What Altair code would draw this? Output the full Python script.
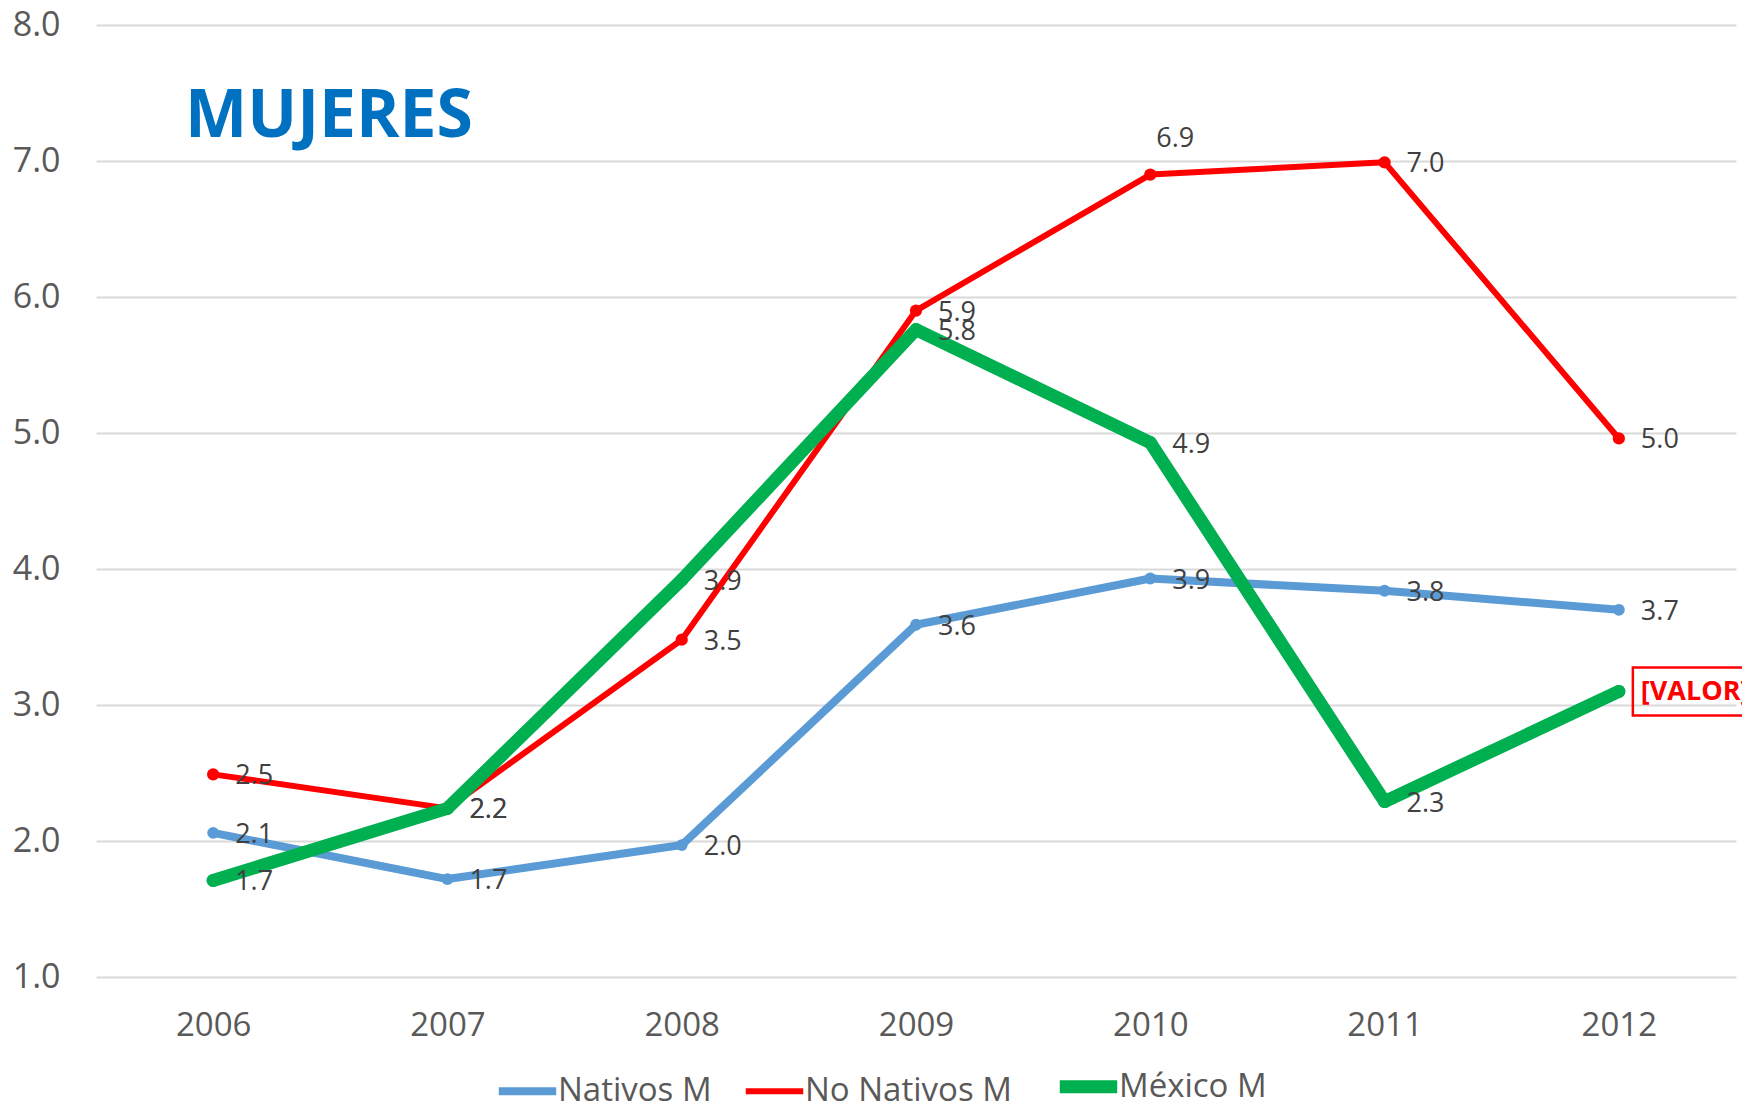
import altair as alt
import pandas as pd

years = [2006, 2007, 2008, 2009, 2010, 2011, 2012]
series_names = ["Nativos M", "No Nativos M", "México M"]
nativos = [2.06, 1.72, 1.97, 3.59, 3.93, 3.84, 3.70]
no_nativos = [2.49, 2.24, 3.48, 5.90, 6.90, 6.99, 4.96]
mexico = [1.71, 2.24, 3.92, 5.76, 4.93, 2.29, 3.10]
y_ticks = [1, 2, 3, 4, 5, 6, 7, 8]
title_text = ["MUJERES"]
special_label = "[VALOR]"

colors = ["#5B9BD5", "#FF0000", "#00B050"]
line_widths = [8, 6, 13]
point_sizes = [140, 150, 170]

rows = []
for name, vals in zip(series_names, [nativos, no_nativos, mexico]):
    for yr, v in zip(years, vals):
        rows.append({"year": yr, "value": v, "serie": name})
df = pd.DataFrame(rows)

FONT = "Open Sans"
GRAY = "#595959"
LABEL_GRAY = "#404040"

legend_width_expr = " : ".join(
    f"datum.value == '{n}' ? {w}" for n, w in zip(series_names[:-1], line_widths[:-1])
) + f" : {line_widths[-1]}"

legend = alt.Legend(
    orient="none", legendX=415, legendY=1045, direction="horizontal", columns=3,
    title=None, symbolType="stroke", symbolSize=3300, labelFontSize=33,
    symbolStrokeWidth=alt.ExprRef(legend_width_expr),
    labelColor=GRAY, labelFont=FONT, columnPadding=21, labelOffset=14,
    padding=0, labelLimit=400,
)
color_enc = alt.Color("serie:N", scale=alt.Scale(domain=series_names, range=colors), legend=legend)

x_enc = alt.X(
    "year:Q",
    scale=alt.Scale(domain=[2005.5, 2012.5], nice=False, zero=False),
    axis=alt.Axis(values=years, format="d", grid=False, ticks=False, domain=False,
                  labelFontSize=33, labelColor=GRAY, labelFont=FONT, labelPadding=32, title=None),
)
y_enc = alt.Y(
    "value:Q",
    scale=alt.Scale(domain=[1, 8], nice=False, zero=False),
    axis=alt.Axis(values=y_ticks, format=".1f", grid=True, gridColor="#D9D9D9", gridWidth=2,
                  ticks=False, domain=False, labelFontSize=34, labelColor=GRAY, labelFont=FONT,
                  labelPadding=36, title=None),
)

base = alt.Chart(df)

lines = []
points = []
for name, lw, ps in zip(series_names, line_widths, point_sizes):
    lines.append(
        base.transform_filter(alt.datum.serie == name)
        .mark_line(strokeJoin="round", strokeCap="round", strokeWidth=lw)
        .encode(x=x_enc, y=y_enc, color=color_enc)
    )
    points.append(
        base.transform_filter(alt.datum.serie == name)
        .mark_point(filled=True, size=ps, opacity=1)
        .encode(x=x_enc, y=y_enc, color=color_enc)
    )

labels_right = (
    base.transform_filter(
        "!((datum.serie == 'No Nativos M' && datum.year == 2010) || (datum.serie == 'México M' && datum.year == 2012))"
    )
    .mark_text(align="left", baseline="middle", dx=22, dy=2, fontSize=27, font=FONT, color=LABEL_GRAY)
    .encode(x=x_enc, y=y_enc, text=alt.Text("value:Q", format=".1f"))
)
labels_above = (
    base.transform_filter("datum.serie == 'No Nativos M' && datum.year == 2010")
    .mark_text(align="center", baseline="middle", dx=25, dy=-36, fontSize=27, font=FONT, color=LABEL_GRAY)
    .encode(x=x_enc, y=y_enc, text=alt.Text("value:Q", format=".1f"))
)
valor_filter = "datum.serie == 'México M' && datum.year == 2012"
valor_box = (
    base.transform_filter(valor_filter)
    .mark_point(shape="M-1,-0.4L1,-0.4L1,0.4L-1,0.4Z", size=14400, filled=False,
                stroke="#FF0000", strokeWidth=2.5, xOffset=74, opacity=1)
    .encode(x=x_enc, y=y_enc)
)
valor_text = (
    base.transform_filter(valor_filter)
    .mark_text(align="left", baseline="middle", dx=22, dy=1, fontSize=27, font=FONT,
               fontWeight="bold", color="#FF0000")
    .encode(x=x_enc, y=y_enc, text=alt.value(special_label))
)

title = (
    alt.Chart(pd.DataFrame({"t": title_text}))
    .mark_text(align="center", baseline="middle", fontSize=66, font=FONT, fontWeight="bold", color="#0070C0")
    .encode(x=alt.value(233), y=alt.value(92), text="t:N")
)

chart = (
    alt.layer(*lines, *points, labels_right, labels_above, valor_box, valor_text, title)
    .properties(
        width=1640, height=952,
        autosize=alt.AutoSizeParams(type="none"),
        padding={"left": 88, "top": 17, "right": 6, "bottom": 124},
        background="white",
    )
    .configure(font=FONT)
    .configure_view(stroke="transparent", strokeWidth=0)
)

chart.save("out.html", embed_options={"renderer": "svg", "actions": False})
